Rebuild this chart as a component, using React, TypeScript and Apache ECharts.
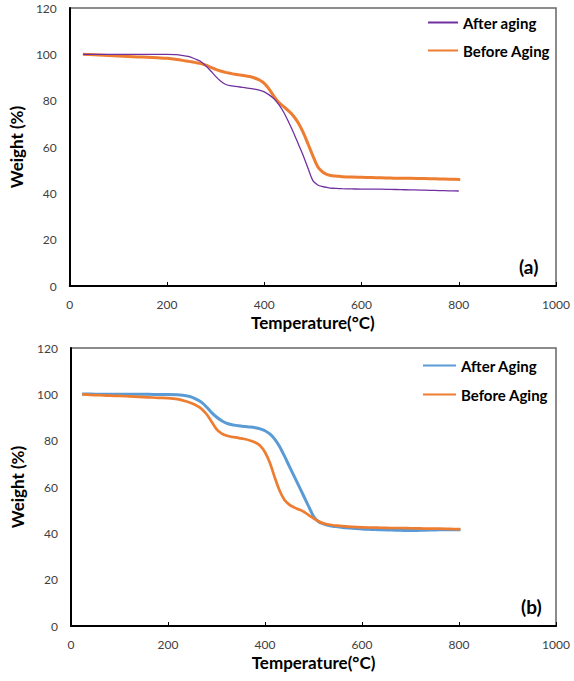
import React, { useEffect, useRef } from "react";
import * as echarts from "echarts";

// Panel (a) — temperatures (°C) and weights (%)
const A_AFTER_T = [27, 40, 60, 80, 100, 120, 140, 160, 180, 200, 220, 240, 250, 260, 270, 280, 290, 300, 310, 320, 330, 340, 350, 360, 370, 380, 390, 400, 410, 420, 430, 440, 450, 460, 470, 480, 490, 500, 510, 520, 530, 540, 550, 560, 580, 600, 620, 640, 660, 680, 700, 720, 740, 760, 780, 800];
const A_AFTER_W = [100, 100, 100, 100, 100, 100, 100, 100, 100, 100, 99.9, 99.2, 98.7, 97.8, 96.8, 95, 92.8, 90.5, 88.5, 87.1, 86.5, 86.2, 85.9, 85.6, 85.3, 85, 84.5, 83.8, 82.5, 80.8, 78.3, 75, 70.8, 66.3, 61.3, 56.3, 50.8, 45.5, 43.6, 42.9, 42.5, 42.2, 42.1, 42.0, 41.9, 41.8, 41.8, 41.8, 41.7, 41.6, 41.5, 41.4, 41.3, 41.2, 41.1, 41.0];
const A_BEFORE_T = [27, 40, 60, 80, 100, 120, 140, 160, 180, 200, 220, 240, 250, 260, 270, 280, 290, 300, 310, 320, 330, 340, 350, 360, 370, 380, 390, 400, 410, 420, 430, 440, 450, 460, 470, 480, 490, 500, 510, 520, 530, 540, 550, 560, 580, 600, 620, 640, 660, 680, 700, 720, 740, 760, 780, 803];
const A_BEFORE_W = [100, 99.9, 99.7, 99.5, 99.3, 99.1, 98.9, 98.7, 98.5, 98.3, 97.8, 97.1, 96.8, 96.4, 96.0, 95.3, 94.4, 93.5, 92.8, 92.2, 91.8, 91.4, 91.1, 90.8, 90.4, 89.8, 88.9, 87.5, 85.0, 81.8, 79.2, 77.4, 75.6, 73.4, 70.4, 66.3, 61.3, 56.2, 51.5, 49.2, 48.1, 47.6, 47.4, 47.2, 47.0, 46.9, 46.8, 46.7, 46.6, 46.5, 46.5, 46.4, 46.3, 46.2, 46.1, 46.0];

// Panel (b)
const B_AFTER_T = [23, 40, 60, 80, 100, 120, 140, 160, 180, 200, 220, 240, 250, 260, 270, 280, 290, 300, 310, 320, 330, 340, 350, 360, 370, 380, 390, 400, 410, 420, 430, 440, 450, 460, 470, 480, 490, 500, 510, 520, 530, 540, 550, 560, 580, 600, 620, 640, 660, 680, 700, 720, 740, 760, 780, 803];
const B_AFTER_W = [100.1, 100.1, 100, 100, 100, 100, 100, 100, 99.9, 99.9, 99.8, 99.3, 98.7, 97.7, 96.4, 94.4, 92.1, 90.2, 88.7, 87.6, 87, 86.6, 86.3, 86.1, 85.9, 85.6, 85.1, 84.3, 82.9, 80.7, 77.5, 73.4, 69.0, 64.7, 60.4, 56.0, 51.6, 47.4, 45.1, 44.1, 43.5, 43.1, 42.8, 42.5, 42.2, 41.9, 41.7, 41.5, 41.4, 41.3, 41.2, 41.3, 41.4, 41.5, 41.6, 41.6];
const B_BEFORE_T = [23, 40, 60, 80, 100, 120, 140, 160, 180, 200, 220, 240, 250, 260, 270, 280, 290, 300, 310, 320, 330, 340, 350, 360, 370, 380, 390, 400, 410, 420, 430, 440, 450, 460, 470, 480, 490, 500, 510, 520, 530, 540, 550, 560, 580, 600, 620, 640, 660, 680, 700, 720, 740, 760, 780, 803];
const B_BEFORE_W = [100, 99.8, 99.6, 99.4, 99.3, 99.1, 98.9, 98.7, 98.5, 98.4, 97.9, 96.8, 96, 95, 93.6, 91.3, 88.2, 85, 83.2, 82.2, 81.7, 81.4, 81, 80.6, 80, 79.2, 77.8, 75, 70.5, 64.2, 58.5, 54.5, 52.4, 51.2, 50.3, 49.3, 47.9, 46.5, 45.2, 44.3, 43.8, 43.5, 43.3, 43.1, 42.8, 42.6, 42.5, 42.4, 42.3, 42.3, 42.2, 42.1, 42.0, 42.0, 41.9, 41.8];

const X_MIN = 0, X_MAX = 1000, X_STEP = 200;
const Y_MIN = 0, Y_MAX = 120, Y_STEP = 20;

const FONT = "Lato, 'Open Sans', sans-serif";

const pairs = (t: number[], w: number[]) => t.map((v, i) => [v, w[i]]);

function makeX(gridIndex: number) {
  return {
    type: "value",
    gridIndex,
    min: X_MIN,
    max: X_MAX,
    interval: X_STEP,
    name: "Temperature(°C)",
    nameLocation: "middle",
    nameGap: 28,
    nameTextStyle: { fontFamily: FONT, fontSize: 17, fontWeight: "bold", color: "#000" },
    axisLine: { show: true, lineStyle: { color: "#000", width: 2 } },
    axisTick: { show: true, inside: true, length: 4, lineStyle: { color: "#000", width: 1 } },
    axisLabel: { fontFamily: FONT, fontSize: 12, color: "#404040", margin: 12, formatter: (v: number) => String(v) },
    splitLine: { show: false },
  };
}

function makeY(gridIndex: number) {
  return {
    type: "value",
    gridIndex,
    min: Y_MIN,
    max: Y_MAX,
    interval: Y_STEP,
    name: "Weight (%)",
    nameLocation: "middle",
    nameGap: 36,
    nameTextStyle: { fontFamily: FONT, fontSize: 17, fontWeight: "bold", color: "#000" },
    axisLine: { show: true, lineStyle: { color: "#000", width: 2 } },
    axisTick: { show: false },
    axisLabel: { fontFamily: FONT, fontSize: 12, color: "#404040", margin: 13, formatter: (v: number) => String(v) },
    splitLine: { show: false },
  };
}

export default function App() {
  const ref = useRef<HTMLDivElement>(null);
  useEffect(() => {
    if (!ref.current) return;
    const chart = echarts.init(ref.current, null, { renderer: "svg" });
    const legendText = { fontFamily: FONT, fontSize: 15, fontWeight: "bold", color: "#000" };
    const common = { symbol: "none", smooth: 0.3 };
    chart.setOption({
      animation: false,
      backgroundColor: "#fff",
      grid: [
        { left: 65, top: 8, width: 491, height: 278, show: true, borderColor: "#666", borderWidth: 1.5 },
        { left: 71, top: 348, width: 485, height: 278, show: true, borderColor: "#666", borderWidth: 1.5 },
      ],
      xAxis: [makeX(0), makeX(1)],
      yAxis: [makeY(0), makeY(1)],
      legend: [
        {
          data: ["After aging", "Before Aging"],
          orient: "vertical",
          left: 427,
          top: 15,
          padding: 0,
          itemWidth: 30,
          itemHeight: 16,
          itemGap: 13,
          itemStyle: { opacity: 0 },
          textStyle: legendText,
        },
        {
          data: ["After Aging", "Before Aging"],
          orient: "vertical",
          left: 422,
          top: 358,
          padding: 0,
          itemWidth: 33,
          itemHeight: 16,
          itemGap: 14,
          itemStyle: { opacity: 0 },
          textStyle: legendText,
        },
      ],
      graphic: [
        { type: "text", left: 519, top: 257, style: { text: "(a)", fontFamily: FONT, fontSize: 19, fontWeight: "bold", fill: "#000" } },
        { type: "text", left: 521, top: 597, style: { text: "(b)", fontFamily: FONT, fontSize: 19, fontWeight: "bold", fill: "#000" } },
      ],
      series: [
        {
          ...common,
          name: "After aging",
          type: "line",
          xAxisIndex: 0,
          yAxisIndex: 0,
          data: pairs(A_AFTER_T, A_AFTER_W),
          lineStyle: { color: "#7030A0", width: 1.3 },
          itemStyle: { color: "#7030A0" },
          z: 3,
        },
        {
          ...common,
          name: "Before Aging",
          type: "line",
          xAxisIndex: 0,
          yAxisIndex: 0,
          data: pairs(A_BEFORE_T, A_BEFORE_W),
          lineStyle: { color: "#ED7D31", width: 3 },
          itemStyle: { color: "#ED7D31" },
          z: 2,
        },
        {
          ...common,
          name: "After Aging",
          type: "line",
          xAxisIndex: 1,
          yAxisIndex: 1,
          data: pairs(B_AFTER_T, B_AFTER_W),
          lineStyle: { color: "#5B9BD5", width: 3 },
          itemStyle: { color: "#5B9BD5" },
          z: 2,
        },
        {
          ...common,
          name: "Before Aging",
          type: "line",
          xAxisIndex: 1,
          yAxisIndex: 1,
          data: pairs(B_BEFORE_T, B_BEFORE_W),
          lineStyle: { color: "#ED7D31", width: 2.7 },
          itemStyle: { color: "#ED7D31" },
          z: 3,
        },
      ],
    });
    return () => chart.dispose();
  }, []);
  return <div ref={ref} style={{ position: "absolute", left: 0, top: 0, width: 574, height: 681 }} />;
}
